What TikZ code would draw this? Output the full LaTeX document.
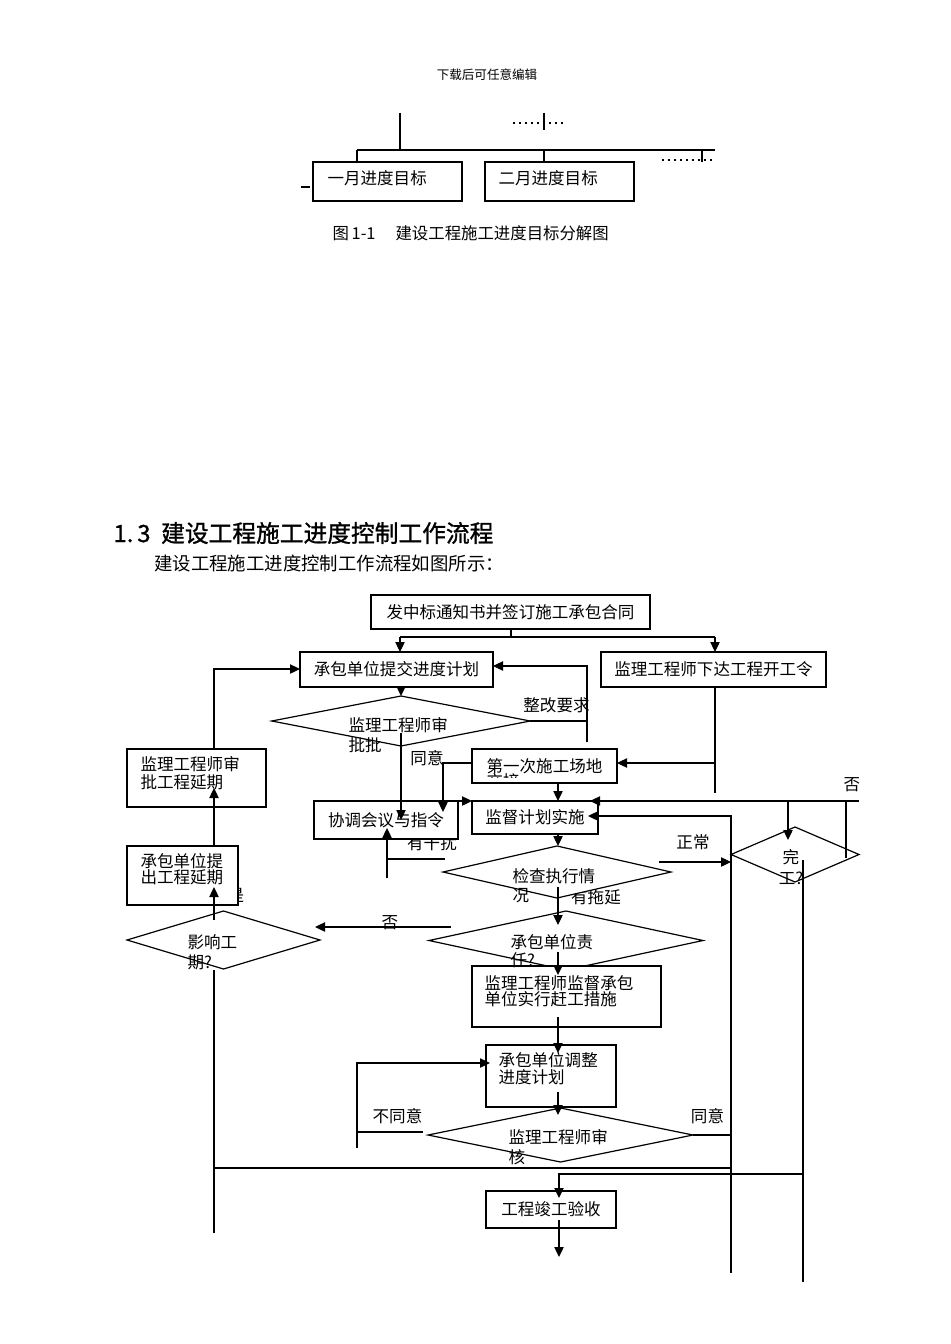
\documentclass[tikz,border=0pt]{standalone}
\usepackage{fontspec}
\setmainfont{Noto Sans CJK SC}
\newfontfamily\headfont[FakeBold=1.2]{Noto Sans CJK SC}
\usetikzlibrary{arrows.meta,shapes.geometric}
\newcommand{\chart}{\fontsize{12.4pt}{15pt}\selectfont}

\begin{document}
\begin{tikzpicture}[
		x=0.75pt, y=-0.75pt, line width=0.9pt,
		box/.style={draw=black,fill=white,rectangle,inner sep=0pt,outer sep=0pt,font=\chart},
		decision/.style={draw=black,fill=white,diamond,inner sep=0pt,outer sep=0pt},
		txt/.style={inner sep=0pt,anchor=west,align=left,font=\fontsize{12.4pt}{#1}\selectfont},
		tag/.style={inner sep=0pt,font=\chart},
		flow/.style={>={Triangle[length=7.5pt,width=7pt]}, ->},
		dotrow/.style={line width=1.5pt,dash pattern=on 1.5pt off 3pt}
		]
		\useasboundingbox (0,0) rectangle (950,1344);
		\node[tag, font=\fontsize{9.4pt}{11pt}\selectfont] (hdr) at (487,75) {下载后可任意编辑};

		\node[box, minimum width=111.75pt, minimum height=29.25pt] (m1box) at (387.5,181.5) {};
		\node[box, minimum width=111.75pt, minimum height=29.25pt] (m2box) at (559.5,181.5) {};
		\node[txt=15pt] (m1) at (327,178) {一月进度目标};
		\node[txt=15pt] (m2) at (498,178) {二月进度目标};
		\node[txt=15pt, font=\fontsize{12.3pt}{15pt}\selectfont] (cap) at (332,233) {图\hspace{2pt}1-1\hspace{15pt}建设工程施工进度目标分解图};

		\node[txt=20pt, font=\headfont\fontsize{17.8pt}{20pt}\selectfont] (title) at (113,533) {1.\hspace{3pt}3\hspace{8pt}建设工程施工进度控制工作流程};
		\node[txt=16pt, font=\fontsize{13.8pt}{16pt}\selectfont] (intro) at (153.6,563) {建设工程施工进度控制工作流程如图所示：};

		% labels partly hidden by the shapes
		\node[tag] (yes) at (236,896) {是};
		\node[tag] (jam) at (432,843) {有干扰};
		\node[tag] (late) at (596,897) {有拖延};

		\node[box, minimum width=209.25pt, minimum height=25.5pt] (ntc) at (510.5,612) {发中标通知书并签订施工承包合同};
		\node[box, minimum width=144.75pt, minimum height=26.25pt] (plan) at (396.5,669.5) {承包单位提交进度计划};
		\node[box, minimum width=168.75pt, minimum height=26.25pt] (start) at (713.5,669.5) {监理工程师下达工程开工令};
		\node[decision, minimum width=193.9pt, minimum height=37.5pt] (approve) at (401,721) {};
		\node[box, minimum width=108.75pt, minimum height=25.5pt] (site) at (544.5,766) {第一次施工场地};
		\node[box, minimum width=108pt, minimum height=28.5pt] (coord) at (386,820) {协调会议与指令};
		\node[box, minimum width=94.5pt, minimum height=24.75pt] (supv) at (535,817.5) {监督计划实施};
		\node[decision, minimum width=171pt, minimum height=39pt] (check) at (557,872) {};
		\node[decision, minimum width=205.5pt, minimum height=44.25pt] (resp) at (566,940.5) {};
		\node[decision, minimum width=144.75pt, minimum height=43.5pt] (delay) at (223.5,940) {};
		\node[box, minimum width=83.25pt, minimum height=44.25pt] (ext) at (182.5,875.5) {};
		\node[box, minimum width=104.25pt, minimum height=43.5pt] (extok) at (196.5,778) {};
		\node[decision, minimum width=96pt, minimum height=41.25pt] (done) at (795,854.5) {};
		\node[box, minimum width=141.75pt, minimum height=45.75pt] (rush) at (566.5,996.5) {};
		\node[box, minimum width=97.5pt, minimum height=46.5pt] (adj) at (551,1076) {};
		\node[decision, minimum width=198.75pt, minimum height=40.5pt] (review) at (560.5,1135) {};
		\node[box, minimum width=97.5pt, minimum height=27.75pt] (accept) at (551,1209.5) {工程竣工验收};

		\begin{scope}
			\clip (480,769) rectangle (535,777);
			\node[txt=15pt] (siteB) at (486,781) {交接};
		\end{scope}
		\node[txt=15pt] (approveT) at (348,735) {监理工程师审\\批批};
		\node[txt=14.25pt] (checkT) at (512,885.5) {检查执行情\\况};
		\node[txt=13.5pt] (respT) at (510,951) {承包单位责\\任?};
		\node[txt=15pt] (delayT) at (187,952) {影响工\\期?};
		\node[txt=12pt] (extT) at (140,869) {承包单位提\\出工程延期};
		\node[txt=13.5pt] (extokT) at (140,773) {监理工程师审\\批工程延期};
		\node[txt=15.75pt, anchor=center, align=center] (doneT) at (791,867.5) {完\\工?};
		\node[txt=12pt] (rushT) at (484,991) {监理工程师监督承包\\单位实行赶工措施};
		\node[txt=12.75pt] (adjT) at (498,1068.5) {承包单位调整\\进度计划};
		\node[txt=15pt] (reviewT) at (508,1147) {监理工程师审\\核};

		\node[tag] (fix) at (556.5,705) {整改要求};
		\node[tag] (agree1) at (427,758) {同意};
		\node[tag] (no1) at (390,923) {否};
		\node[tag] (normal) at (693,842) {正常};
		\node[tag] (no2) at (852,785) {否};
		\node[tag] (disagree) at (397.5,1116) {不同意};
		\node[tag] (agree2) at (707.5,1116) {同意};

		% decomposition fragment
		\coordinate (barL) at (357,150);
		\coordinate (barR) at (715,150);
		\coordinate (root) at (400,113);
		\coordinate (stemM) at (544,113);
		\coordinate (stemMb) at (544,130);
		\coordinate (tickR) at (702,162);
		\coordinate (dotA1) at (513,123);
		\coordinate (dotA2) at (565,123);
		\coordinate (dotB1) at (662,160);
		\coordinate (dotB2) at (715,160);
		\coordinate (dashA) at (301,187);
		\coordinate (dashB) at (310,187);
		\draw (root) -- (root |- barL);
		\draw (barL) -- (barR);
		\draw (barL) -- (barL |- m1box.north);
		\draw (stemM |- barL) -- (stemM |- m2box.north);
		\draw (stemM) -- (stemMb);
		\draw (tickR |- barL) -- (tickR);
		\draw[dotrow] (dotA1) -- (dotA2);
		\draw[dotrow] (dotB1) -- (dotB2);
		\draw (dashA) -- (dashB);

		% flow chart
		\coordinate (split) at (511,637);
		\coordinate (splitL) at (400,637);
		\coordinate (splitR) at (715,637);
		\draw (ntc.south -| split) -- (split);
		\draw (splitL) -- (splitR);
		\draw[flow] (splitL) -- (splitL |- plan.north);
		\draw[flow] (splitR) -- (splitR |- start.north);
		\draw[flow] (approve.north |- plan.south) -- (approve.north);

		\coordinate (fixT) at (587,666);
		\coordinate (fixB) at (587,742);
		\draw (approve.east) -- (approve.east -| fixT);
		\draw[flow] (fixB) -- (fixT) -- (fixT -| plan.east);

		\coordinate (aprOut) at (401,733);
		\coordinate (aprTip) at (401,820);
		\draw[flow] (aprOut) -- (aprTip);
		\coordinate (okBend) at (443,763);
		\coordinate (okTip) at (443,812);
		\draw[flow] (site.west |- okBend) -- (okBend) -- (okTip);

		\coordinate (startEnd) at (715,793);
		\coordinate (startJ) at (715,763);
		\draw (start.south -| startEnd) -- (startEnd);
		\draw[flow] (startJ) -- (startJ -| site.east);

		\coordinate (spine) at (558,0);
		\draw[flow] (site.south -| spine) -- (supv.north -| spine);
		\draw[flow] (coord.north east) -- (coord.north east -| supv.west);
		\draw[flow] (supv.south -| spine) -- (check.north -| spine);
		\coordinate (chkOut) at (558,887);
		\coordinate (respTip) at (558,925);
		\draw[flow] (chkOut) -- (respTip);
		\coordinate (respOut) at (558,952);
		\coordinate (rushTip) at (558,975);
		\draw[flow] (respOut) -- (rushTip);
		\coordinate (rushOut) at (558,1017);
		\coordinate (adjTip) at (558,1053);
		\draw[flow] (rushOut) -- (adjTip);
		\coordinate (adjOut) at (558,1092);
		\coordinate (revTip) at (558,1115);
		\draw[flow] (adjOut) -- (revTip);

		\coordinate (irR) at (445,859);
		\coordinate (irL) at (387,859);
		\coordinate (irB) at (387,878);
		\coordinate (irTip) at (387,828);
		\draw (irR) -- (irL);
		\draw[flow] (irB) -- (irTip);

		\coordinate (noA) at (451,927);
		\coordinate (noTip) at (315,927);
		\draw[flow] (noA) -- (noTip);

		\coordinate (trunkB) at (214,1233);
		\coordinate (trunkM) at (214,970);
		\coordinate (trunkT) at (214,920);
		\coordinate (extTip) at (214,887);
		\coordinate (extokTip) at (214,788);
		\coordinate (trunkTop) at (214,669);
		\draw (trunkB) -- (trunkM);
		\draw[flow] (trunkT) -- (extTip);
		\draw[flow] (ext.north -| trunkT) -- (extokTip);
		\draw[flow] (extok.north -| trunkT) -- (trunkTop) -- (trunkTop -| plan.west);

		\coordinate (okA) at (659,862);
		\coordinate (okB) at (731,862);
		\draw[flow] (okA) -- (okB);

		\coordinate (doneR) at (859,801);
		\coordinate (doneJ) at (846,801);
		\coordinate (doneD) at (846,858);
		\coordinate (supvTip) at (590,801);
		\coordinate (doneIn) at (788,801);
		\coordinate (doneTip) at (788,840);
		\draw[flow] (doneR) -- (supvTip);
		\draw (doneD) -- (doneJ);
		\draw[flow] (doneIn) -- (doneTip);

		\coordinate (railA) at (731,1273);
		\coordinate (railTop) at (731,816);
		\coordinate (railTip) at (588,816);
		\draw[flow] (railA) -- (railTop) -- (railTip);
		\coordinate (railB) at (803,1282);
		\coordinate (railBtop) at (803,860);
		\draw (railB) -- (railBtop);
		\coordinate (finJ) at (803,1174);
		\coordinate (finL) at (559,1174);
		\coordinate (finTip) at (559,1198);
		\draw[flow] (finJ) -- (finL) -- (finTip);
		\coordinate (finOut) at (559,1220);
		\coordinate (finEnd) at (559,1257);
		\draw[flow] (finOut) -- (finEnd);

		\coordinate (disL) at (423,1132);
		\coordinate (disC) at (357,1132);
		\coordinate (disB) at (357,1148);
		\coordinate (disT) at (357,1063);
		\coordinate (disTip) at (490,1063);
		\draw (disL) -- (disC);
		\draw[flow] (disB) -- (disT) -- (disTip);
		\coordinate (agrR) at (731,1133);
		\draw (review.east) -- (review.east -| agrR);
		\coordinate (baseL) at (214,1168);
		\coordinate (baseR) at (731,1168);
		\draw (baseL) -- (baseR);
	\end{tikzpicture}
\end{document}
